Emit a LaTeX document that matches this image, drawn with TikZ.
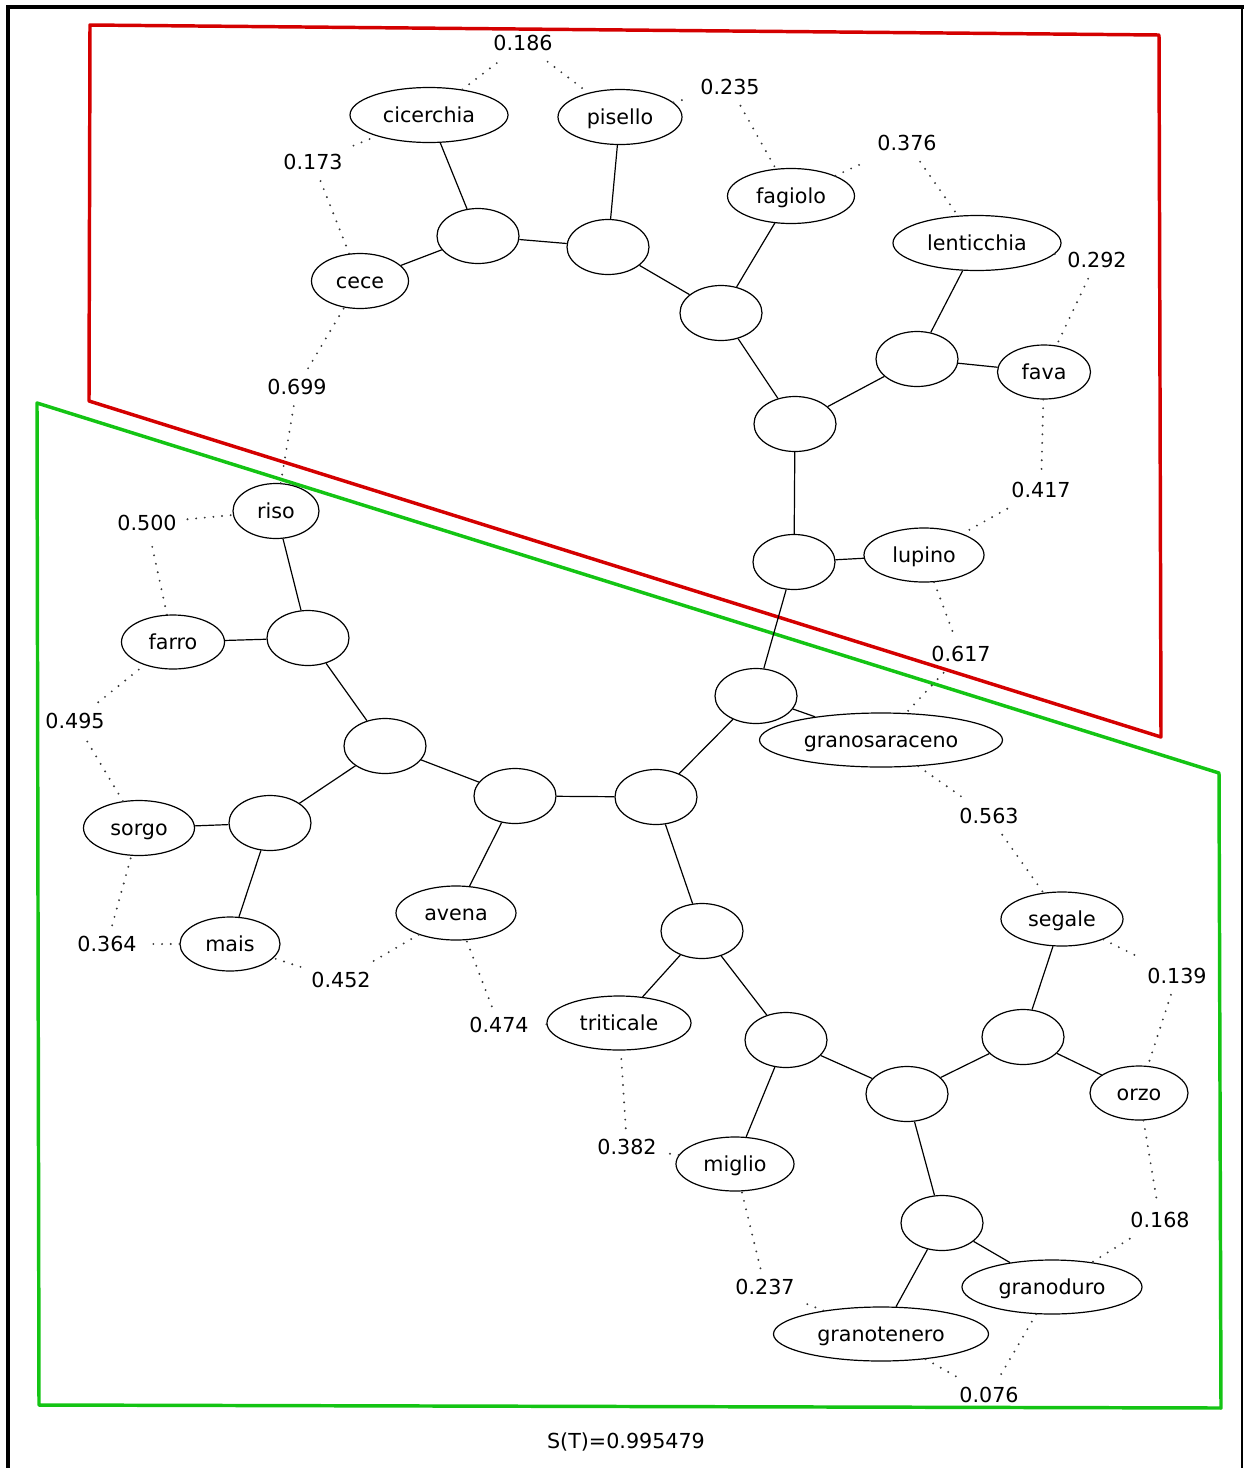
\documentclass[tikz,border=0pt]{standalone}
\usepackage{fontspec}
\setmainfont{DejaVu Sans}
\usetikzlibrary{shapes.geometric}
\definecolor{frred}{RGB}{212,0,0}
\definecolor{frgreen}{RGB}{20,196,20}
\begin{document}
\begin{tikzpicture}[x=0.75pt,y=-0.75pt,
  every node/.style={font=\fontsize{15.5}{18}\selectfont},
  sz/.style 2 args={minimum width=#1*0.75pt, minimum height=#2*0.75pt},
  leaf/.style={ellipse, draw, line width=0.9pt, inner sep=0pt, text height=10.5pt, text depth=0pt},
  hub/.style={ellipse, draw, line width=0.9pt, inner sep=0pt, sz={82}{55}},
  wt/.style={inner sep=8pt},
  link/.style={line width=0.9pt},
  dotlink/.style={line width=1.6pt, dash pattern=on 0pt off 6.5pt, line cap=round, black!78},
  frame/.style={line width=2.6pt, line join=round}]
\useasboundingbox (0,0) rectangle (1244,1468);
% outer black frame
\draw[line width=3pt] (8,1468) -- (8,7) -- (1244,7);
\draw[line width=1.2pt] (1242,7) -- (1242,1468);
% group frames
\draw[frame, frred] (90,25) -- (1159,35) -- (1161,737) -- (89,401) -- cycle;
\draw[frame, frgreen] (37,403) -- (1219,773) -- (1221,1408) -- (39,1405) -- cycle;

% leaves
\node[leaf,sz={158}{55}] (cicerchia) at (429,115) {cicerchia};
\node[leaf,sz={124}{55}] (pisello) at (620,117) {pisello};
\node[leaf,sz={127}{55}] (fagiolo) at (791,196) {fagiolo};
\node[leaf,sz={168}{55}] (lenticchia) at (977,243) {lenticchia};
\node[leaf,sz={93}{54}] (fava) at (1044,372) {fava};
\node[leaf,sz={120}{54}] (lupino) at (924,555) {lupino};
\node[leaf,sz={97}{55}] (cece) at (360,281) {cece};
\node[leaf,sz={86}{55}] (riso) at (276,511) {riso};
\node[leaf,sz={103}{54}] (farro) at (173,642) {farro};
\node[leaf,sz={111}{55}] (sorgo) at (139,828) {sorgo};
\node[leaf,sz={100}{54}] (mais) at (230,944) {mais};
\node[leaf,sz={120}{54}] (avena) at (456,913) {avena};
\node[leaf,sz={243}{54}] (granosaraceno) at (881,740) {granosaraceno};
\node[leaf,sz={144}{54}] (triticale) at (619,1023) {triticale};
\node[leaf,sz={118}{54}] (miglio) at (735,1164) {miglio};
\node[leaf,sz={122}{54}] (segale) at (1062,919) {segale};
\node[leaf,sz={98}{54}] (orzo) at (1139,1093) {orzo};
\node[leaf,sz={180}{54}] (granoduro) at (1052,1287) {granoduro};
\node[leaf,sz={215}{54}] (granotenero) at (881,1334) {granotenero};

% internal nodes
\node[hub] (A) at (478,236) {};
\node[hub] (B) at (608,247) {};
\node[hub] (C) at (721,313) {};
\node[hub] (D) at (917,359) {};
\node[hub] (E) at (795,424) {};
\node[hub] (F) at (794,562) {};
\node[hub] (G) at (308,638) {};
\node[hub] (H) at (385,746) {};
\node[hub] (I) at (270,823) {};
\node[hub] (J) at (515,796) {};
\node[hub] (K) at (656,797) {};
\node[hub] (L) at (756,696) {};
\node[hub] (M) at (702,931) {};
\node[hub] (N) at (786,1040) {};
\node[hub] (O) at (907,1094) {};
\node[hub] (P) at (1023,1037) {};
\node[hub] (Q) at (942,1223) {};

% tree edges
\draw[link] (cicerchia) -- (A);
\draw[link] (cece) -- (A);
\draw[link] (A) -- (B);
\draw[link] (pisello) -- (B);
\draw[link] (B) -- (C);
\draw[link] (fagiolo) -- (C);
\draw[link] (C) -- (E);
\draw[link] (E) -- (D);
\draw[link] (lenticchia) -- (D);
\draw[link] (fava) -- (D);
\draw[link] (E) -- (F);
\draw[link] (lupino) -- (F);
\draw[link] (F) -- (L);
\draw[link] (granosaraceno) -- (L);
\draw[link] (L) -- (K);
\draw[link] (K) -- (J);
\draw[link] (J) -- (avena);
\draw[link] (J) -- (H);
\draw[link] (H) -- (G);
\draw[link] (G) -- (riso);
\draw[link] (G) -- (farro);
\draw[link] (H) -- (I);
\draw[link] (I) -- (sorgo);
\draw[link] (I) -- (mais);
\draw[link] (K) -- (M);
\draw[link] (M) -- (triticale);
\draw[link] (M) -- (N);
\draw[link] (N) -- (miglio);
\draw[link] (N) -- (O);
\draw[link] (O) -- (P);
\draw[link] (P) -- (segale);
\draw[link] (P) -- (orzo);
\draw[link] (O) -- (Q);
\draw[link] (Q) -- (granoduro);
\draw[link] (Q) -- (granotenero);

% distance labels
\node[wt] (l186) at (523,43) {0.186};
\node[wt] (l235) at (730,87) {0.235};
\node[wt] (l376) at (907,143) {0.376};
\node[wt] (l292) at (1097,260) {0.292};
\node[wt] (l417) at (1041,490) {0.417};
\node[wt] (l617) at (961,654) {0.617};
\node[wt] (l563) at (989,816) {0.563};
\node[wt] (l139) at (1177,976) {0.139};
\node[wt] (l168) at (1160,1220) {0.168};
\node[wt] (l076) at (989,1395) {0.076};
\node[wt] (l237) at (765,1287) {0.237};
\node[wt] (l382) at (627,1147) {0.382};
\node[wt] (l474) at (499,1025) {0.474};
\node[wt] (l452) at (341,980) {0.452};
\node[wt] (l364) at (107,944) {0.364};
\node[wt] (l495) at (75,721) {0.495};
\node[wt] (l500) at (147,523) {0.500};
\node[wt] (l699) at (297,387) {0.699};
\node[wt] (l173) at (313,162) {0.173};

% dotted connectors
\foreach \a/\b in {cicerchia/l186, l186/pisello, pisello/l235, l235/fagiolo,
  fagiolo/l376, l376/lenticchia, lenticchia/l292, l292/fava, fava/l417,
  l417/lupino, lupino/l617, l617/granosaraceno, granosaraceno/l563,
  l563/segale, segale/l139, l139/orzo, orzo/l168, l168/granoduro,
  granoduro/l076, l076/granotenero, granotenero/l237, l237/miglio,
  miglio/l382, l382/triticale, triticale/l474, l474/avena, avena/l452,
  l452/mais, mais/l364, l364/sorgo, sorgo/l495, l495/farro, farro/l500,
  l500/riso, riso/l699, l699/cece, cece/l173, l173/cicerchia}
  \draw[dotlink] (\a) -- (\b);

\node (score) at (626,1442) {S(T)=0.995479};
\end{tikzpicture}
\end{document}
